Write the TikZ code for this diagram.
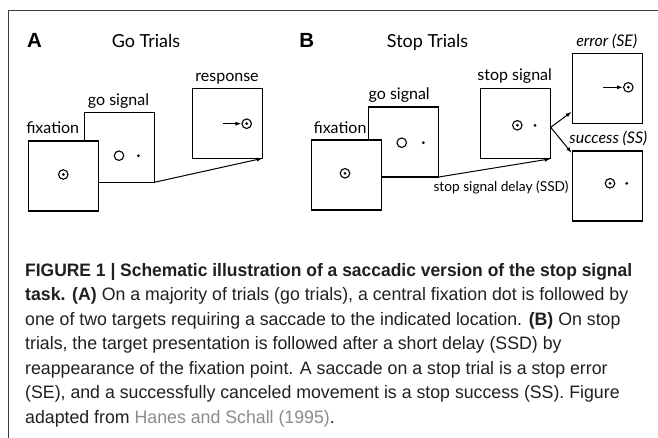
\documentclass[tikz,border=0pt]{standalone}
\usepackage{fontspec}
\usepackage{graphicx}
\setmainfont{Liberation Sans}
\newfontfamily\labfont{Lato}
\newfontfamily\capfont{Liberation Sans}
\usetikzlibrary{arrows.meta,calc}
\definecolor{captext}{HTML}{231F20}
\definecolor{capgray}{HTML}{8C8C8C}
\definecolor{framec}{HTML}{3A3A3A}
\newlength\capwA
\newlength\capwB
\begin{document}
\settowidth{\capwA}{\capfont\fontsize{18}{22}\selectfont\bfseries FIGURE 1 | Schematic illustration of a saccadic version of the stop signal}%
\settowidth{\capwB}{\capfont\fontsize{18}{22}\selectfont\textbf{task. (A)} On a majority of trials (go trials), a central fixation dot is followed by}%
\pgfmathsetmacro{\facA}{607/\capwA}%
\pgfmathsetmacro{\facB}{603/\capwB}%
\begin{tikzpicture}[x=1pt,y=-1pt,
  screen/.style={draw=black, line width=1.2pt, fill=white, minimum width=70pt, minimum height=70pt, inner sep=0pt, outer sep=0pt},
  ring/.style={circle, draw=black, line width=1.1pt, minimum size=9.5pt, inner sep=0pt},
  dotm/.style={circle, fill=black, minimum size=3pt, inner sep=0pt},
  conn/.style={draw=black, line width=1pt, -{Latex[length=6pt,width=4pt]}},
  lab/.style={anchor=base, inner sep=0pt, font=\labfont\fontsize{16}{18}\selectfont},
  title/.style={anchor=base, inner sep=0pt, font=\labfont\fontsize{18}{20}\selectfont},
  panel/.style={anchor=base, inner sep=0pt, font=\fontsize{20.5}{22}\selectfont\bfseries},
  capline/.style={anchor=base west, inner sep=0pt, text=captext, font=\capfont\fontsize{18}{22}\selectfont}
]
\useasboundingbox (0,0) rectangle (658,438);
\fill[white] (0,0) rectangle (658,438);
% frame
\draw[framec, line width=1pt] (658,10.7) -- (8.3,10.7) -- (8.3,438);

% ---------- Panel A ----------
\node[panel] (pA) at (34.5,48) {A};
\node[title] (tA) at (146,48) {Go Trials};

\node[screen] (goA) at (119.3,147.3) {};
\node[screen] (fixA) at (63.3,176) {};
\node[screen] (respA) at (227.7,123.3) {};

\node[lab] (lfixA) at (52.7,133.3) {fixation};
\node[lab] (lgoA) at (118.5,106) {go signal};
\node[lab] (lrespA) at (227,81.5) {response};

% symbols A
\node[ring] (fA1) at (63.3,174.5) {};
\node[dotm] (fA2) at (63.3,174.5) {};
\node[ring] (gA1) at (119,155.7) {};
\node[dotm] (gA2) at (138.3,155.7) {};
\node[ring] (rA1) at (246.7,123.7) {};
\node[dotm] (rA2) at (246.7,123.7) {};
\coordinate (rAs) at (223.3,123.7);
\draw[conn] (rAs) -- (rA1.west);

\draw[conn] (goA.south east) -- (respA.south east);

% ---------- Panel B ----------
\node[panel] (pB) at (306.7,48) {B};
\node[title] (tB) at (427.5,48) {Stop Trials};

\node[screen] (goB) at (403.7,142) {};
\node[screen] (fixB) at (346.7,175) {};
\node[screen] (stopB) at (515.7,123.8) {};
\node[screen] (errB) at (607.7,88.3) {};
\node[screen] (succB) at (607.7,186) {};

\node[lab] (lfixB) at (340,133.3) {fixation};
\node[lab] (lgoB) at (399.2,100) {go signal};
\node[lab] (lstopB) at (514.7,80.7) {stop signal};
\node[lab, font=\labfont\itshape\fontsize{16}{18}\selectfont] (lerrB) at (606.7,46.7) {error (SE)};
\node[lab, font=\labfont\itshape\fontsize{16}{18}\selectfont] (lsuccB) at (608.3,143.3) {success (SS)};
\node[lab, font=\labfont\fontsize{13.7}{16}\selectfont] (lssd) at (501,191.7) {stop signal delay (SSD)};

% symbols B
\node[ring] (fB1) at (345,173.3) {};
\node[dotm] (fB2) at (345,173.3) {};
\node[ring] (gB1) at (401.7,142.7) {};
\node[dotm] (gB2) at (423.3,142.7) {};
\node[ring] (sB1) at (517.3,125.3) {};
\node[dotm] (sB2) at (517.3,125.3) {};
\node[dotm] (sB3) at (535,125.3) {};
\node[ring] (eB1) at (628.3,87.3) {};
\node[dotm] (eB2) at (628.3,87.3) {};
\coordinate (eBs) at (603.3,87.3);
\draw[conn] (eBs) -- (eB1.west);
\node[ring] (cB1) at (610,183.3) {};
\node[dotm] (cB2) at (610,183.3) {};
\node[dotm] (cB3) at (626.7,183.3) {};

\draw[conn] (goB.south east) -- (stopB.south east);
\coordinate (fork) at ($(stopB.east)+(0,3.5)$);
\draw[conn] (fork) -- ($(errB.south west)+(-1,-11.5)$);
\draw[conn] (fork) -- ($(succB.north west)+(-1,2)$);

% ---------- Caption ----------
\node[capline] (c1) at (25,276.5) {\scalebox{\facA}[1]{\bfseries FIGURE 1 | Schematic illustration of a saccadic version of the stop signal}};
\node[capline] (c2) at (25,300.5) {\scalebox{\facB}[1]{\textbf{task. (A)} On a majority of trials (go trials), a central fixation dot is followed by}};
\node[capline] (c3) at (25,325) {\scalebox{\facB}[1]{one of two targets requiring a saccade to the indicated location. \textbf{(B)} On stop}};
\node[capline] (c4) at (25,349.5) {\scalebox{\facB}[1]{trials, the target presentation is followed after a short delay (SSD) by}};
\node[capline] (c5) at (25,374) {\scalebox{\facB}[1]{reappearance of the fixation point. A saccade on a stop trial is a stop error}};
\node[capline] (c6) at (25,398.5) {\scalebox{\facB}[1]{(SE), and a successfully canceled movement is a stop success (SS). Figure}};
\node[capline] (c7) at (25,423) {\scalebox{\facB}[1]{adapted from \textcolor{capgray}{Hanes and Schall (1995)}.}};
\end{tikzpicture}
\end{document}
